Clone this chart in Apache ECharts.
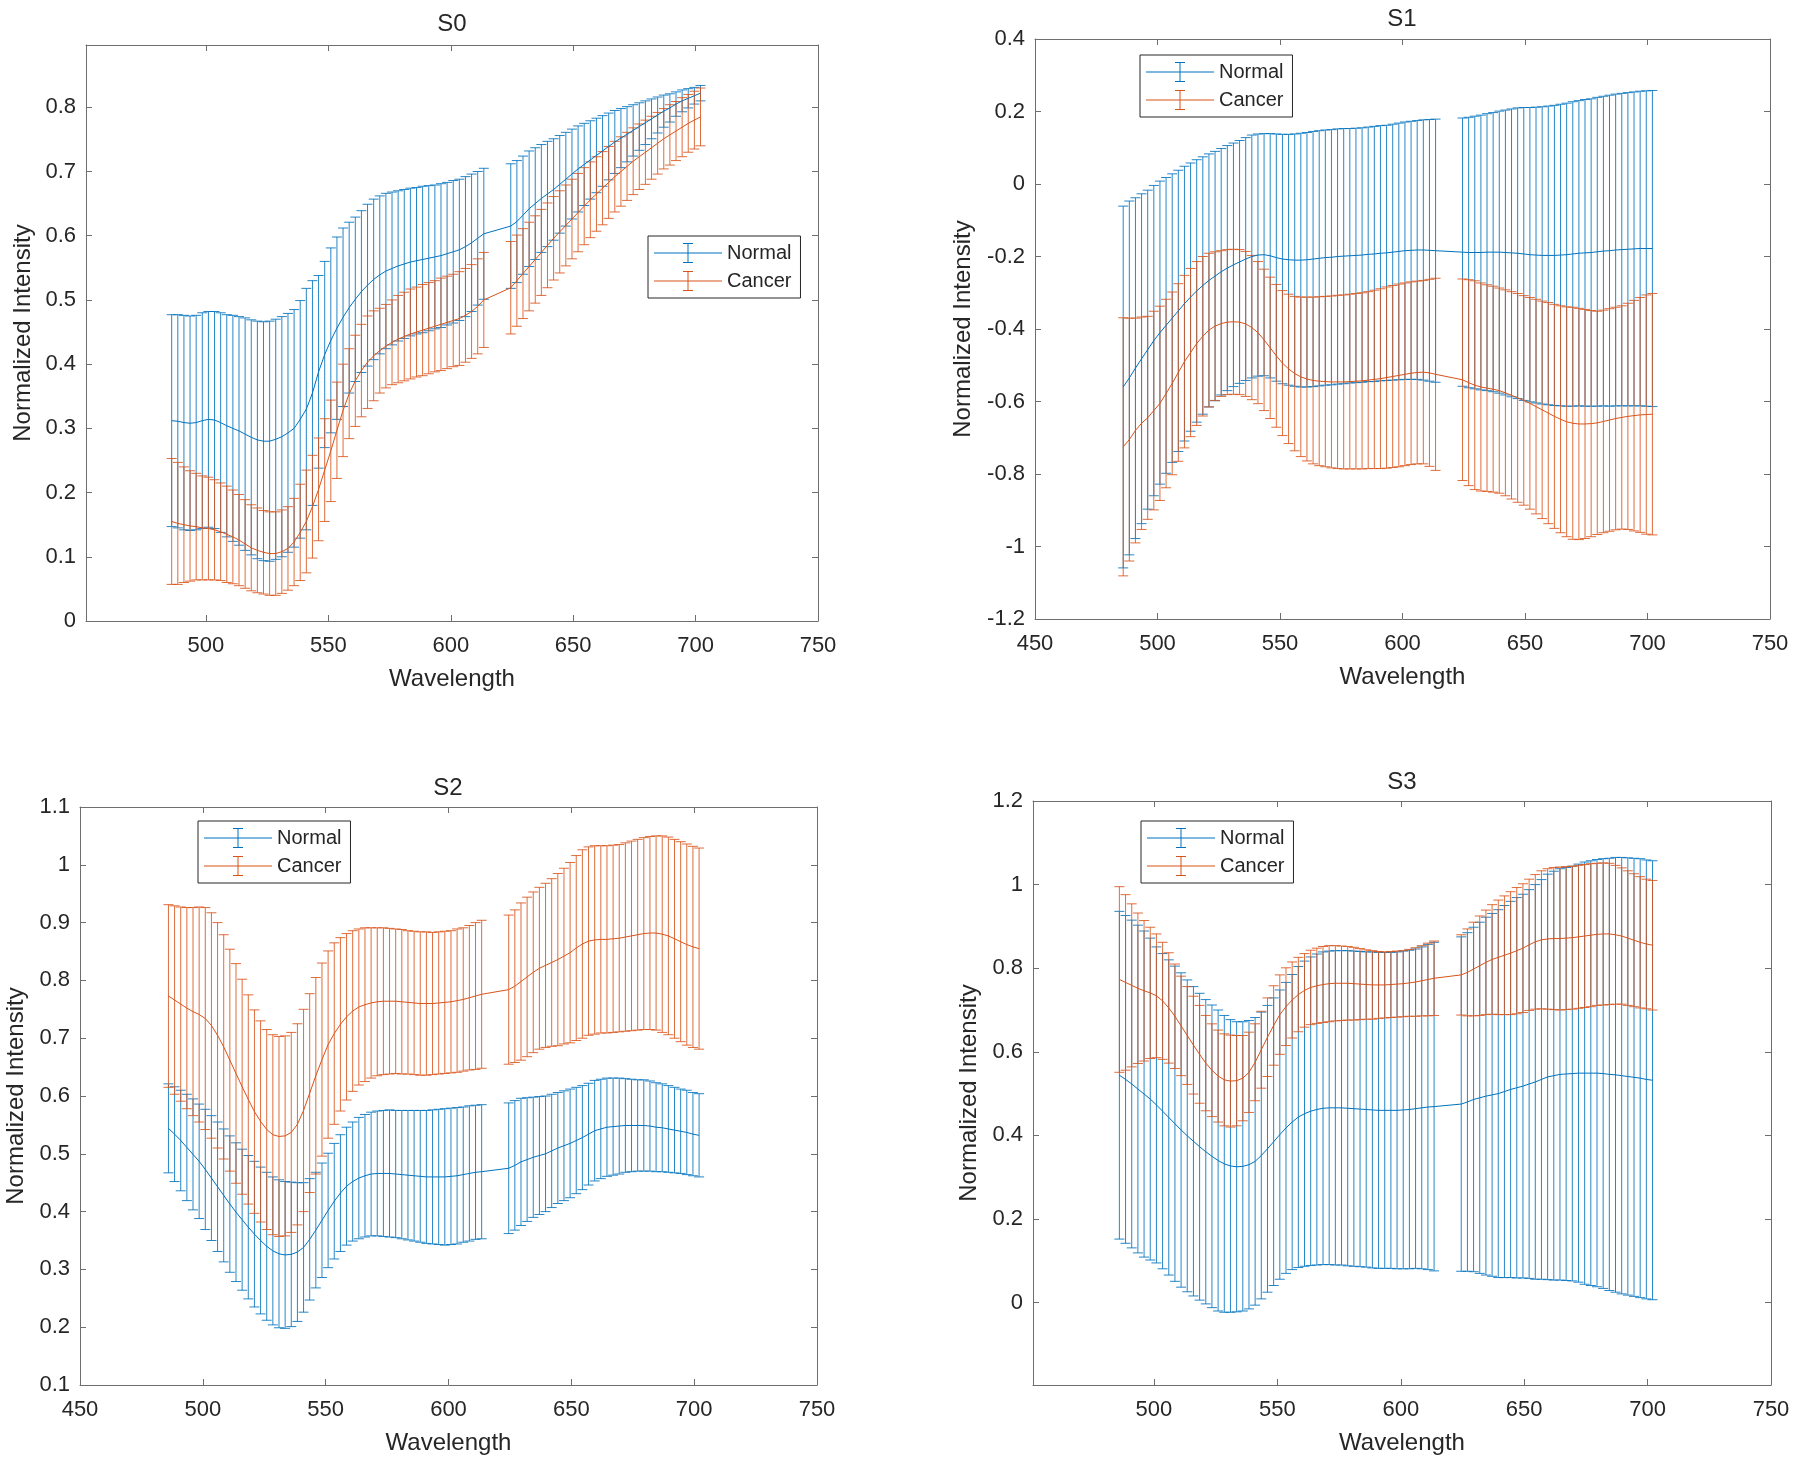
<!DOCTYPE html>
<html><head><meta charset="utf-8">
<script src="https://cdn.jsdelivr.net/npm/echarts@6/dist/echarts.min.js"></script>
<style>html,body{margin:0;padding:0;background:#fff}#c{width:1800px;height:1465px}</style>
</head><body><div id="c"></div>
<script>
// ---------------- DATA ----------------
const wavelength = [
  486, 488.5, 491, 493.5, 496, 498.5, 501, 503.5, 506, 508.5, 511, 513.5, 516, 518.5, 521, 523.5, 526, 528.5, 531, 533.5,
  536, 538.5, 541, 543.5, 546, 548.5, 551, 553.5, 556, 558.5, 561, 563.5, 566, 568.5, 571, 573.5, 576, 578.5, 581, 583.5,
  586, 588.5, 591, 593.5, 596, 598.5, 601, 603.5, 606, 608.5, 611, 613.5,
  624.5, 627, 629.5, 632, 634.5, 637, 639.5, 642, 644.5, 647, 649.5, 652, 654.5, 657, 659.5, 662, 664.5, 667, 669.5, 672,
  674.5, 677, 679.5, 682, 684.5, 687, 689.5, 692, 694.5, 697, 699.5, 702
];

const s0NormalMean = [
  0.312,0.311,0.309,0.308,0.309,0.312,0.314,0.313,0.309,0.304,0.300,0.296,0.291,0.286,0.282,0.280,0.280,0.283,0.287,0.293,
  0.300,0.314,0.330,0.355,0.388,0.415,0.437,0.456,0.473,0.488,0.501,0.513,0.523,0.532,0.539,0.545,0.549,0.553,0.556,0.559,
  0.561,0.563,0.565,0.567,0.569,0.572,0.575,0.578,0.583,0.589,0.596,0.603,
  0.615,0.622,0.632,0.642,0.650,0.658,0.665,0.672,0.680,0.688,0.696,0.704,0.711,0.718,0.725,0.732,0.739,0.746,0.752,0.758,
  0.764,0.770,0.776,0.782,0.788,0.794,0.799,0.805,0.810,0.814,0.818,0.822];
const s0NormalErr = [
  0.165,0.166,0.167,0.167,0.167,0.168,0.168,0.169,0.171,0.173,0.176,0.178,0.181,0.183,0.185,0.186,0.187,0.187,0.187,0.186,
  0.185,0.185,0.188,0.175,0.150,0.145,0.144,0.142,0.139,0.133,0.128,0.126,0.126,0.125,0.123,0.121,0.119,0.117,0.116,0.115,
  0.114,0.114,0.113,0.112,0.112,0.111,0.111,0.110,0.109,0.107,0.104,0.102,
  0.097,0.095,0.092,0.090,0.087,0.084,0.082,0.079,0.076,0.073,0.070,0.067,0.064,0.061,0.058,0.055,0.052,0.049,0.046,0.043,
  0.040,0.037,0.034,0.031,0.028,0.025,0.022,0.019,0.017,0.015,0.013,0.012];
const s0CancerMean = [
  0.155,0.152,0.150,0.148,0.147,0.145,0.144,0.142,0.139,0.135,0.131,0.126,0.120,0.114,0.110,0.107,0.105,0.105,0.108,0.113,
  0.123,0.138,0.155,0.178,0.205,0.235,0.265,0.297,0.328,0.354,0.374,0.390,0.403,0.413,0.421,0.428,0.434,0.439,0.443,0.447,
  0.450,0.453,0.456,0.459,0.462,0.465,0.468,0.471,0.476,0.482,0.490,0.500,
  0.519,0.530,0.541,0.552,0.563,0.574,0.585,0.596,0.606,0.616,0.626,0.636,0.646,0.656,0.665,0.674,0.683,0.692,0.700,0.708,
  0.716,0.723,0.730,0.737,0.744,0.751,0.757,0.763,0.769,0.775,0.780,0.785];
const s0CancerErr = [
  0.098,0.095,0.090,0.086,0.083,0.081,0.080,0.078,0.076,0.075,0.073,0.071,0.069,0.067,0.066,0.065,0.065,0.065,0.065,0.065,
  0.068,0.075,0.080,0.080,0.080,0.080,0.079,0.075,0.072,0.070,0.071,0.072,0.072,0.070,0.066,0.065,0.066,0.068,0.069,0.070,
  0.070,0.071,0.071,0.071,0.072,0.072,0.072,0.073,0.073,0.073,0.074,0.074,
  0.072,0.071,0.070,0.069,0.068,0.067,0.066,0.065,0.064,0.063,0.062,0.061,0.060,0.059,0.058,0.057,0.056,0.055,0.054,0.053,
  0.052,0.051,0.050,0.049,0.048,0.047,0.047,0.046,0.046,0.045,0.045,0.045];

const s1NormalMean = [
  -0.560,-0.535,-0.508,-0.482,-0.457,-0.432,-0.410,-0.390,-0.370,-0.350,-0.330,-0.312,-0.295,-0.280,-0.266,-0.254,-0.242,-0.232,-0.223,-0.215,
  -0.207,-0.200,-0.196,-0.195,-0.198,-0.203,-0.207,-0.209,-0.210,-0.210,-0.209,-0.207,-0.205,-0.203,-0.202,-0.200,-0.199,-0.198,-0.197,-0.196,
  -0.194,-0.193,-0.191,-0.190,-0.188,-0.186,-0.184,-0.183,-0.182,-0.182,-0.183,-0.184,
  -0.188,-0.189,-0.189,-0.189,-0.188,-0.188,-0.188,-0.189,-0.190,-0.191,-0.193,-0.195,-0.196,-0.197,-0.197,-0.197,-0.196,-0.195,-0.193,-0.191,
  -0.190,-0.189,-0.187,-0.185,-0.184,-0.182,-0.181,-0.180,-0.179,-0.178,-0.178,-0.178];
const s1NormalErr = [
  0.499,0.488,0.470,0.455,0.440,0.428,0.418,0.408,0.398,0.388,0.379,0.370,0.362,0.355,0.349,0.344,0.340,0.338,0.336,0.335,
  0.335,0.335,0.334,0.334,0.337,0.341,0.344,0.346,0.348,0.350,0.351,0.352,0.352,0.352,0.352,0.352,0.352,0.351,0.351,0.351,
  0.351,0.352,0.352,0.352,0.353,0.354,0.355,0.356,0.357,0.359,0.361,0.363,
  0.370,0.373,0.376,0.379,0.382,0.385,0.389,0.393,0.397,0.401,0.404,0.406,0.408,0.410,0.412,0.414,0.416,0.418,0.420,0.421,
  0.423,0.424,0.426,0.427,0.429,0.430,0.431,0.432,0.433,0.434,0.435,0.436];
const s1CancerMean = [
  -0.725,-0.705,-0.680,-0.660,-0.645,-0.625,-0.605,-0.578,-0.550,-0.520,-0.490,-0.465,-0.440,-0.420,-0.403,-0.392,-0.385,-0.381,-0.380,-0.381,
  -0.386,-0.396,-0.410,-0.430,-0.452,-0.474,-0.494,-0.510,-0.523,-0.532,-0.538,-0.542,-0.544,-0.545,-0.546,-0.546,-0.546,-0.545,-0.544,-0.543,
  -0.541,-0.539,-0.537,-0.534,-0.531,-0.528,-0.525,-0.522,-0.520,-0.519,-0.521,-0.525,
  -0.540,-0.548,-0.555,-0.560,-0.563,-0.566,-0.570,-0.576,-0.583,-0.590,-0.597,-0.605,-0.614,-0.623,-0.632,-0.641,-0.649,-0.656,-0.660,-0.662,
  -0.662,-0.661,-0.659,-0.655,-0.651,-0.647,-0.644,-0.641,-0.639,-0.637,-0.636,-0.635];
const s1CancerErr = [
  0.356,0.335,0.310,0.293,0.280,0.274,0.268,0.260,0.252,0.245,0.238,0.232,0.226,0.220,0.212,0.205,0.201,0.200,0.200,0.200,
  0.200,0.199,0.196,0.195,0.195,0.197,0.200,0.206,0.213,0.220,0.226,0.230,0.233,0.235,0.237,0.239,0.240,0.241,0.242,0.243,
  0.244,0.246,0.248,0.250,0.251,0.252,0.252,0.252,0.252,0.253,0.258,0.265,
  0.278,0.284,0.288,0.287,0.285,0.284,0.283,0.284,0.286,0.288,0.289,0.292,0.296,0.300,0.305,0.309,0.313,0.317,0.320,0.319,
  0.316,0.312,0.308,0.307,0.307,0.307,0.308,0.312,0.318,0.324,0.330,0.333];

const s2NormalMean = [
  0.544,0.534,0.523,0.511,0.499,0.487,0.473,0.458,0.443,0.428,0.413,0.399,0.386,0.373,0.361,0.350,0.340,0.332,0.327,0.325,
  0.326,0.330,0.338,0.352,0.368,0.385,0.402,0.418,0.432,0.444,0.452,0.458,0.462,0.465,0.466,0.466,0.466,0.465,0.464,0.463,
  0.462,0.461,0.460,0.460,0.460,0.460,0.461,0.462,0.464,0.466,0.468,0.469,
  0.475,0.480,0.486,0.490,0.494,0.497,0.500,0.505,0.510,0.514,0.518,0.523,0.528,0.534,0.540,0.543,0.546,0.547,0.548,0.549,
  0.549,0.549,0.549,0.548,0.546,0.545,0.543,0.541,0.539,0.537,0.534,0.532];
const s2NormalErr = [
  0.077,0.082,0.087,0.092,0.096,0.099,0.104,0.108,0.112,0.115,0.118,0.120,0.122,0.124,0.126,0.127,0.128,0.128,0.128,0.127,
  0.125,0.120,0.112,0.105,0.100,0.099,0.099,0.100,0.101,0.102,0.103,0.105,0.106,0.107,0.108,0.109,0.110,0.110,0.111,0.112,
  0.113,0.114,0.115,0.116,0.117,0.118,0.118,0.118,0.117,0.117,0.116,0.116,
  0.113,0.112,0.110,0.107,0.104,0.102,0.100,0.098,0.096,0.095,0.094,0.092,0.090,0.088,0.087,0.086,0.085,0.084,0.083,0.081,
  0.080,0.079,0.079,0.078,0.077,0.076,0.075,0.074,0.073,0.073,0.072,0.072];
const s2CancerMean = [
  0.773,0.766,0.759,0.752,0.746,0.741,0.734,0.722,0.705,0.685,0.662,0.639,0.616,0.594,0.573,0.556,0.542,0.533,0.530,0.531,
  0.537,0.551,0.575,0.605,0.635,0.663,0.689,0.708,0.724,0.737,0.747,0.754,0.758,0.761,0.763,0.764,0.764,0.764,0.763,0.762,
  0.761,0.760,0.760,0.760,0.761,0.762,0.763,0.765,0.767,0.770,0.773,0.776,
  0.784,0.790,0.798,0.806,0.814,0.821,0.826,0.831,0.836,0.842,0.848,0.856,0.863,0.868,0.870,0.871,0.871,0.872,0.873,0.875,
  0.877,0.879,0.881,0.882,0.882,0.880,0.877,0.872,0.867,0.862,0.858,0.855];
const s2CancerErr = [
  0.158,0.163,0.168,0.174,0.180,0.186,0.192,0.195,0.195,0.194,0.192,0.190,0.186,0.181,0.176,0.174,0.173,0.173,0.173,0.173,
  0.173,0.174,0.175,0.172,0.170,0.167,0.162,0.157,0.150,0.144,0.139,0.135,0.133,0.130,0.128,0.127,0.126,0.125,0.125,0.124,
  0.124,0.124,0.124,0.123,0.123,0.123,0.123,0.124,0.124,0.125,0.127,0.128,
  0.129,0.132,0.136,0.138,0.139,0.140,0.142,0.145,0.149,0.152,0.156,0.160,0.163,0.163,0.163,0.162,0.162,0.162,0.162,0.163,
  0.164,0.165,0.166,0.167,0.168,0.170,0.171,0.172,0.173,0.174,0.174,0.174];

const s3NormalMean = [
  0.544,0.534,0.523,0.511,0.499,0.487,0.473,0.458,0.443,0.428,0.413,0.399,0.386,0.373,0.361,0.350,0.340,0.332,0.327,0.325,
  0.326,0.330,0.338,0.352,0.368,0.385,0.402,0.418,0.432,0.444,0.452,0.458,0.462,0.465,0.466,0.466,0.466,0.465,0.464,0.463,
  0.462,0.461,0.460,0.460,0.460,0.460,0.461,0.462,0.464,0.466,0.468,0.469,
  0.475,0.480,0.486,0.490,0.494,0.497,0.500,0.505,0.510,0.514,0.518,0.523,0.528,0.534,0.540,0.543,0.546,0.547,0.548,0.549,
  0.549,0.549,0.549,0.548,0.546,0.545,0.543,0.541,0.539,0.537,0.534,0.532];
const s3NormalErr = [
  0.392,0.392,0.392,0.392,0.390,0.385,0.378,0.377,0.377,0.377,0.376,0.373,0.370,0.367,0.364,0.362,0.360,0.355,0.350,0.347,
  0.346,0.345,0.344,0.343,0.343,0.344,0.346,0.348,0.353,0.360,0.365,0.369,0.372,0.374,0.375,0.376,0.376,0.377,0.377,0.377,
  0.377,0.378,0.378,0.378,0.378,0.379,0.380,0.381,0.382,0.385,0.389,0.393,
  0.400,0.405,0.412,0.420,0.428,0.434,0.440,0.445,0.450,0.455,0.459,0.465,0.472,0.478,0.485,0.489,0.492,0.494,0.496,0.500,
  0.505,0.508,0.511,0.514,0.517,0.520,0.522,0.523,0.524,0.525,0.525,0.525];
const s3CancerMean = [
  0.773,0.766,0.759,0.752,0.746,0.741,0.734,0.722,0.705,0.685,0.662,0.639,0.616,0.594,0.573,0.556,0.542,0.533,0.530,0.531,
  0.537,0.551,0.575,0.605,0.635,0.663,0.689,0.708,0.724,0.737,0.747,0.754,0.758,0.761,0.763,0.764,0.764,0.764,0.763,0.762,
  0.761,0.760,0.760,0.760,0.761,0.762,0.763,0.765,0.767,0.770,0.773,0.776,
  0.784,0.790,0.798,0.806,0.814,0.821,0.826,0.831,0.836,0.842,0.848,0.856,0.863,0.868,0.870,0.871,0.871,0.872,0.873,0.875,
  0.877,0.879,0.881,0.882,0.882,0.880,0.877,0.872,0.867,0.862,0.858,0.855];
const s3CancerErr = [
  0.222,0.210,0.195,0.180,0.168,0.157,0.148,0.140,0.132,0.125,0.119,0.117,0.117,0.117,0.114,0.111,0.110,0.110,0.110,0.108,
  0.102,0.096,0.092,0.092,0.094,0.095,0.095,0.093,0.091,0.089,0.088,0.089,0.090,0.091,0.091,0.090,0.089,0.088,0.087,0.085,
  0.083,0.082,0.080,0.079,0.079,0.079,0.079,0.080,0.082,0.084,0.087,0.089,
  0.096,0.104,0.112,0.119,0.125,0.131,0.137,0.142,0.147,0.151,0.154,0.157,0.161,0.165,0.168,0.170,0.171,0.171,0.171,0.171,
  0.171,0.171,0.170,0.170,0.169,0.166,0.163,0.161,0.159,0.157,0.155,0.155];

// tick labels
const xTicksFull = [450, 500, 550, 600, 650, 700, 750];
const xTicksNo450 = [500, 550, 600, 650, 700, 750];
const yTicksS0 = [0, 0.1, 0.2, 0.3, 0.4, 0.5, 0.6, 0.7, 0.8];
const yTicksS1 = [-1.2, -1, -0.8, -0.6, -0.4, -0.2, 0, 0.2, 0.4];
const yTicksS2 = [0.1, 0.2, 0.3, 0.4, 0.5, 0.6, 0.7, 0.8, 0.9, 1, 1.1];
const yTicksS3 = [0, 0.2, 0.4, 0.6, 0.8, 1, 1.2];
const seriesNames = ['Normal', 'Cancer'];
const panelTitles = ['S0', 'S1', 'S2', 'S3'];

// ---------------- LAYOUT / STYLE ----------------
const BLUE = '#0072BD', ORANGE = '#D95319';
const FONT = '"Liberation Sans", Arial, Helvetica, sans-serif';
const TXT = '#262626', AX = '#6e6e6e';

const panels = [
  {title: panelTitles[0], grid: {left: 86, top: 45, width: 732, height: 576}, xr: [451, 750], xt: xTicksNo450,
   yr: [0, 0.897], yt: yTicksS0, tx: 452, ty: 24, lg: {left: 648, top: 236}, yGap: 51,
   d: [[s0NormalMean, s0NormalErr], [s0CancerMean, s0CancerErr]]},
  {title: panelTitles[1], grid: {left: 1035, top: 39, width: 735, height: 580}, xr: [450, 750], xt: xTicksFull,
   yr: [-1.2, 0.4], yt: yTicksS1, tx: 1402, ty: 19, lg: {left: 1140, top: 55}, yGap: 60,
   d: [[s1NormalMean, s1NormalErr], [s1CancerMean, s1CancerErr]]},
  {title: panelTitles[2], grid: {left: 80, top: 807, width: 737, height: 578}, xr: [450, 750], xt: xTicksFull,
   yr: [0.1, 1.1], yt: yTicksS2, tx: 448, ty: 788, lg: {left: 198, top: 821}, yGap: 52,
   d: [[s2NormalMean, s2NormalErr], [s2CancerMean, s2CancerErr]]},
  {title: panelTitles[3], grid: {left: 1033, top: 801, width: 738, height: 584}, xr: [451, 750], xt: xTicksNo450,
   yr: [-0.197, 1.2], yt: yTicksS3, tx: 1402, ty: 782, lg: {left: 1141, top: 821}, yGap: 52,
   d: [[s3NormalMean, s3NormalErr], [s3CancerMean, s3CancerErr]]}
];

const fmt = v => String(+(+v).toFixed(2));
const ICON = 'path://M0 9.5L68 9.5L68 10.5L0 10.5Z M33.5 1L34.5 1L34.5 19L33.5 19Z M29 0L39 0L39 1L29 1Z M29 19L39 19L39 20L29 20Z';

function errRender(color) {
  return function (params, api) {
    const x = api.value(0), m = api.value(1), e = api.value(2);
    const hi = api.coord([x, m + e]), lo = api.coord([x, m - e]);
    const c = 5;
    const st = {stroke: color, lineWidth: 1, fill: null, opacity: 0.85};
    return {type: 'group', children: [
      {type: 'line', shape: {x1: hi[0], y1: hi[1], x2: lo[0], y2: lo[1]}, style: st},
      {type: 'line', shape: {x1: hi[0] - c, y1: hi[1], x2: hi[0] + c, y2: hi[1]}, style: st},
      {type: 'line', shape: {x1: lo[0] - c, y1: lo[1], x2: lo[0] + c, y2: lo[1]}, style: st}
    ]};
  };
}

const grids = [], xAxes = [], yAxes = [], series = [], legends = [], graphics = [];
const colors = [BLUE, ORANGE];

panels.forEach((p, i) => {
  grids.push(Object.assign({containLabel: false, show: false}, p.grid));
  const lineSt = {show: true, onZero: false, lineStyle: {color: AX, width: 1}};
  const tickBase = {show: true, inside: true, length: 6, lineStyle: {color: AX, width: 1}};
  // bottom (main) x axis
  xAxes.push({type: 'value', gridIndex: i, position: 'bottom', min: p.xr[0], max: p.xr[1],
    axisLine: lineSt, splitLine: {show: false},
    axisTick: Object.assign({customValues: p.xt}, tickBase),
    axisLabel: {customValues: p.xt, formatter: fmt, fontSize: 22, color: TXT, fontFamily: FONT, margin: 14},
    name: 'Wavelength', nameLocation: 'middle', nameGap: 46,
    nameTextStyle: {fontSize: 24, color: TXT, fontFamily: FONT}});
  // top x axis (box)
  xAxes.push({type: 'value', gridIndex: i, position: 'top', min: p.xr[0], max: p.xr[1],
    axisLine: lineSt, splitLine: {show: false},
    axisTick: Object.assign({customValues: p.xt}, tickBase),
    axisLabel: {show: false}});
  // left (main) y axis
  yAxes.push({type: 'value', gridIndex: i, position: 'left', min: p.yr[0], max: p.yr[1],
    axisLine: lineSt, splitLine: {show: false},
    axisTick: Object.assign({customValues: p.yt}, tickBase),
    axisLabel: {customValues: p.yt, formatter: fmt, fontSize: 22, color: TXT, fontFamily: FONT, margin: 10},
    name: 'Normalized Intensity', nameLocation: 'middle', nameGap: p.yGap,
    nameTextStyle: {fontSize: 24, color: TXT, fontFamily: FONT}});
  // right y axis (box)
  yAxes.push({type: 'value', gridIndex: i, position: 'right', min: p.yr[0], max: p.yr[1],
    axisLine: lineSt, splitLine: {show: false},
    axisTick: Object.assign({customValues: p.yt}, tickBase),
    axisLabel: {show: false}});

  p.d.forEach((pair, k) => {
    const mean = pair[0], err = pair[1];
    series.push({
      type: 'custom', name: seriesNames[k], xAxisIndex: 2 * i, yAxisIndex: 2 * i,
      renderItem: errRender(colors[k]), itemStyle: {color: colors[k]},
      encode: {x: 0, y: 1}, clip: true, silent: true,
      data: wavelength.map((w, j) => [w, mean[j], err[j]])
    });
    series.push({
      type: 'line', name: seriesNames[k] + ' mean', xAxisIndex: 2 * i, yAxisIndex: 2 * i,
      showSymbol: false, symbol: 'none', silent: true,
      lineStyle: {color: colors[k], width: 1}, itemStyle: {color: colors[k]},
      data: wavelength.map((w, j) => [w, mean[j]])
    });
  });

  legends.push({
    orient: 'vertical', left: p.lg.left, top: p.lg.top, selectedMode: false,
    itemWidth: 68, itemHeight: 20, itemGap: 8, padding: [7, 9, 7, 6],
    borderColor: '#262626', borderWidth: 1, backgroundColor: '#fff',
    textStyle: {fontSize: 20, color: TXT, fontFamily: FONT},
    data: [
      {name: seriesNames[0], icon: ICON, itemStyle: {color: BLUE}},
      {name: seriesNames[1], icon: ICON, itemStyle: {color: ORANGE}}
    ]
  });

  graphics.push({type: 'text', x: p.tx, y: p.ty, style: {
    text: p.title, align: 'center', verticalAlign: 'middle',
    font: '24px ' + FONT, fill: TXT}});
});

const chart = echarts.init(document.getElementById('c'), null, {renderer: 'canvas'});
chart.setOption({
  animation: false,
  backgroundColor: '#fff',
  grid: grids, xAxis: xAxes, yAxis: yAxes,
  legend: legends, series: series, graphic: graphics
});
</script>
</body></html>
